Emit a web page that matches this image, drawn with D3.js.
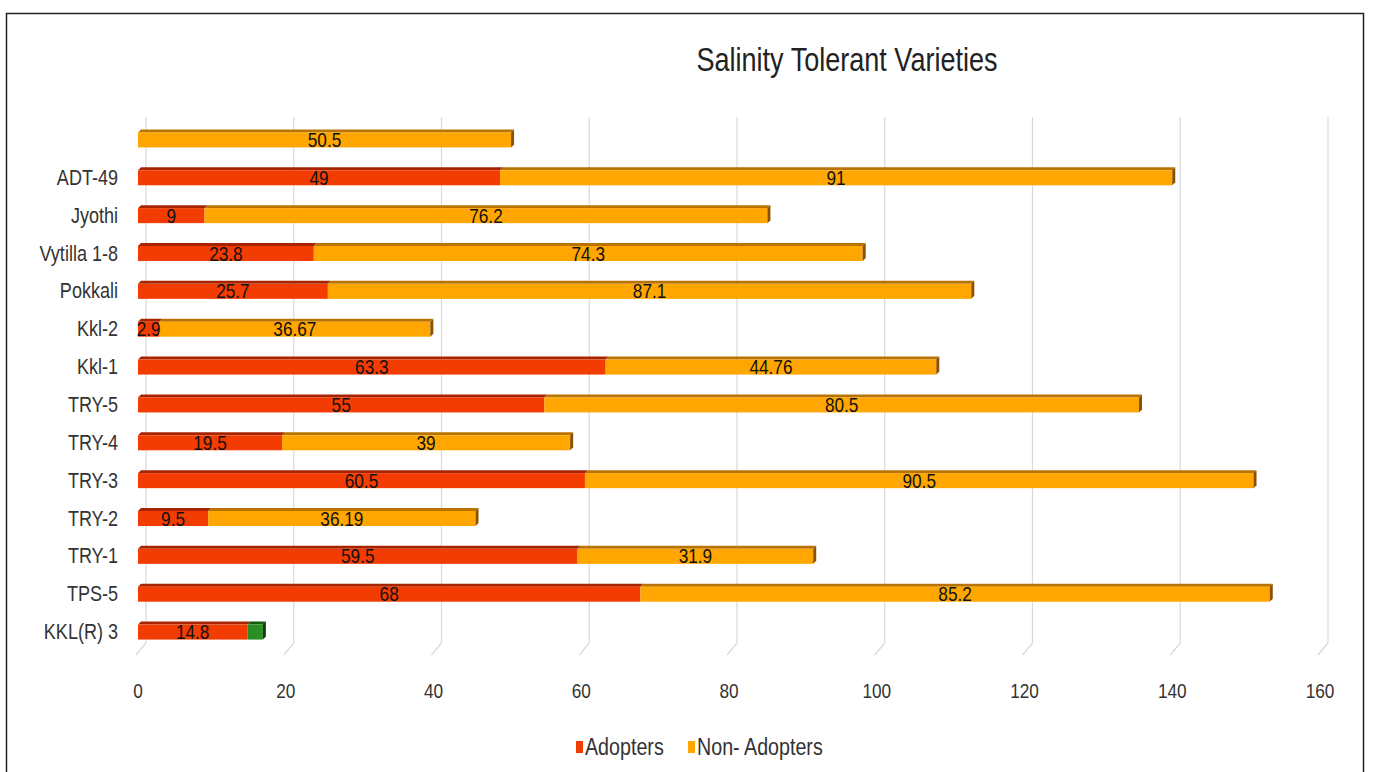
<!DOCTYPE html>
<html lang="en">
<head>
  <meta charset="UTF-8">
  <title>Salinity Tolerant Varieties</title>
  <script src="https://d3js.org/d3.v7.min.js"></script>
  <style>
    body { margin: 0; background: #fff; }
    svg { display: block; font-family: "Liberation Sans", Arial, sans-serif; }
    .cat { font-size: 22px; fill: #333; }
    .tick-label { font-size: 21px; fill: #333; }
    .val { font-size: 21px; fill: #111; }
    .legend-text { font-size: 24px; fill: #333; }
  </style>
</head>
<body>
  <svg id="chart" width="1373" height="772"></svg>

  <script>
    // categories, top to bottom as in the picture
    const categories = ["", "ADT-49", "Jyothi", "Vytilla 1-8", "Pokkali", "Kkl-2", "Kkl-1",
      "TRY-5", "TRY-4", "TRY-3", "TRY-2", "TRY-1", "TPS-5", "KKL(R) 3"];
    const adopters    = [0, 49, 9, 23.8, 25.7, 2.9, 63.3, 55, 19.5, 60.5, 9.5, 59.5, 68, 14.8];
    const nonAdopters = [50.5, 91, 76.2, 74.3, 87.1, 36.67, 44.76, 80.5, 39, 90.5, 36.19, 31.9, 85.2, 0];
    const other       = [0, 0, 0, 0, 0, 0, 0, 0, 0, 0, 0, 0, 0, 2.1]; // unlabelled green piece
    const xTicks = [0, 20, 40, 60, 80, 100, 120, 140, 160];

    const series = [
      { name: "Adopters", values: adopters, front: "#f23c02", top: "#a82400", side: "#8a1c00", label: true, legend: true },
      { name: "Non- Adopters", values: nonAdopters, front: "#ffa600", top: "#b87300", side: "#8a5200", label: true, legend: true },
      { name: "Other", values: other, front: "#2a8f22", top: "#145a10", side: "#0e3d0a", label: false, legend: false }
    ];

    const svg = d3.select("#chart");
    const depth = 3;     // 3d bar depth
    const back = 8;      // offset of the back wall (gridlines)
    const squeeze = 0.82; // the original font is a tall narrow one

    const x = d3.scaleLinear().domain([0, 160]).range([138, 1320]);
    const y = d3.scaleBand().domain(categories).range([120, 650]);
    const barH = 15;

    // place text squeezed horizontally
    function put(sel, px, py) {
      return sel.attr("transform", `translate(${px},${py}) scale(${squeeze},1)`);
    }

    // frame
    svg.append("rect")
      .attr("x", 6.5).attr("y", 13.5)
      .attr("width", 1357).attr("height", 800)
      .attr("fill", "none").attr("stroke", "#222").attr("stroke-width", 1.5);

    // title
    put(svg.append("text"), 847, 71)
      .attr("text-anchor", "middle")
      .attr("font-size", 33).attr("fill", "#222")
      .text("Salinity Tolerant Varieties");

    // gridlines on back wall + floor foot
    const grid = svg.append("g");
    xTicks.forEach(t => {
      const gx = x(t) + back;
      grid.append("path")
        .attr("d", `M${gx},117 L${gx},643 L${gx - 10},655`)
        .attr("fill", "none").attr("stroke", "#d9d9d9").attr("stroke-width", 1.2);
      put(grid.append("text"), x(t), 698)
        .attr("class", "tick-label")
        .attr("text-anchor", "middle")
        .text(t);
    });

    // stacked bars
    const stackData = categories.map((c, i) => {
      let acc = 0;
      const segs = series.map(s => {
        const v = s.values[i];
        const seg = { s, v, x0: acc, x1: acc + v };
        acc += v;
        return seg;
      }).filter(d => d.v > 0);
      return { c, segs, total: acc };
    });

    const bars = svg.append("g");
    stackData.forEach(row => {
      const yc = y(row.c) + y.bandwidth() / 2;
      const yt = yc - barH / 2 + 1;
      const yb = yt + barH;
      const g = bars.append("g");
      row.segs.forEach((seg, k) => {
        const a = x(seg.x0), b = x(seg.x1);
        // top face
        g.append("path")
          .attr("d", `M${a},${yt} L${a + depth},${yt - depth} L${b + depth},${yt - depth} L${b},${yt} Z`)
          .attr("fill", seg.s.top);
        // front face
        g.append("rect")
          .attr("x", a).attr("y", yt)
          .attr("width", b - a).attr("height", barH)
          .attr("fill", seg.s.front);
        // right side on the last piece
        if (k === row.segs.length - 1) {
          g.append("path")
            .attr("d", `M${b},${yt} L${b + depth},${yt - depth} L${b + depth},${yb - depth} L${b},${yb} Z`)
            .attr("fill", seg.s.side);
        }
      });
      row.segs.filter(d => d.s.label).forEach(seg => {
        put(g.append("text"), x((seg.x0 + seg.x1) / 2), yc + 8)
          .attr("class", "val")
          .attr("text-anchor", "middle")
          .text(seg.v);
      });
    });

    // category labels
    const catG = svg.append("g");
    categories.forEach(c => {
      put(catG.append("text"), 118, y(c) + y.bandwidth() / 2 + 8)
        .attr("class", "cat")
        .attr("text-anchor", "end")
        .text(c);
    });

    // legend
    const legendItems = series.filter(s => s.legend);
    const legendPos = [576, 688];
    const legend = svg.append("g");
    legendItems.forEach((s, i) => {
      legend.append("rect")
        .attr("x", legendPos[i]).attr("y", 741)
        .attr("width", 7).attr("height", 12)
        .attr("fill", s.front);
      put(legend.append("text"), legendPos[i] + 9, 755)
        .attr("class", "legend-text")
        .text(s.name);
    });
  </script>
</body>
</html>
